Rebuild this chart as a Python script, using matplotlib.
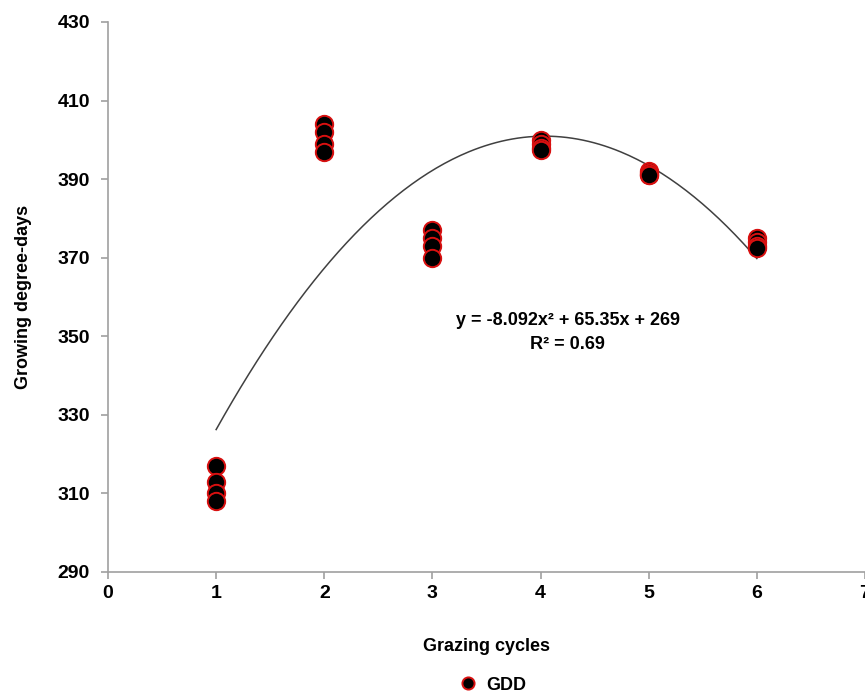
import matplotlib
matplotlib.use("Agg")
from matplotlib import pyplot as plt
import numpy as np

# grazing cycle and growing degree-days
cycles = [1, 1, 1, 1, 2, 2, 2, 2, 3, 3, 3, 3, 4, 4, 4, 4, 5, 5, 5, 5, 6, 6, 6, 6]
gdd = [317, 313, 310, 308, 404, 402, 399, 397, 377, 375, 373, 370,
       400, 399, 398, 397.5, 392, 391.5, 391, 391, 375, 374, 373, 372.5]

# polynomial trend line printed on the chart
coef = [-8.092, 65.35, 269]
r2 = 0.69

plt.rcParams['font.family'] = ['Liberation Sans', 'DejaVu Sans']
plt.rcParams['font.weight'] = 'bold'

fig = plt.figure(figsize=(8.65, 6.93), dpi=100)
ax = fig.add_axes([108/865, 1 - 572/693, 1 - 108/865, 550/693])

xs = np.linspace(min(cycles), max(cycles), 200)
ax.plot(xs, np.polyval(coef, xs), color="#404040", lw=1.1, zorder=2)

ax.plot(cycles, gdd, 'o', markersize=12.5, markerfacecolor="black",
        markeredgecolor="#d81010", markeredgewidth=1.4, label="GDD", zorder=3, ls='none')

ax.set_xlim(0, 7)
ax.set_ylim(290, 430)
ax.set_xticks(range(0, 8))
ax.set_yticks(range(290, 431, 20))
for s in ['top', 'right']:
    ax.spines[s].set_visible(False)
for s in ['left', 'bottom']:
    ax.spines[s].set_color("#a0a0a0")
    ax.spines[s].set_linewidth(1.2)
ax.tick_params(axis='both', colors="#a0a0a0", labelcolor="black", labelsize=14, length=5, width=1.2)
ax.tick_params(axis='y', pad=8)
ax.tick_params(axis='x', pad=4)

ax.set_xlabel("Grazing cycles", fontsize=13, fontweight='bold', labelpad=26)
ax.set_ylabel("Growing degree-days", fontsize=13, fontweight='bold', labelpad=18)

ax.text(4.25, 354, "y = -8.092x² + 65.35x + 269", ha='center', va='center', fontsize=13)
ax.text(4.25, 348, "R² = %.2f" % r2, ha='center', va='center', fontsize=13)

leg = fig.legend(loc='center', bbox_to_anchor=(488/865, 1 - 685/693), frameon=False,
                 fontsize=13, handletextpad=0.0, markerscale=0.7)

plt.savefig("out.png", dpi=100)
